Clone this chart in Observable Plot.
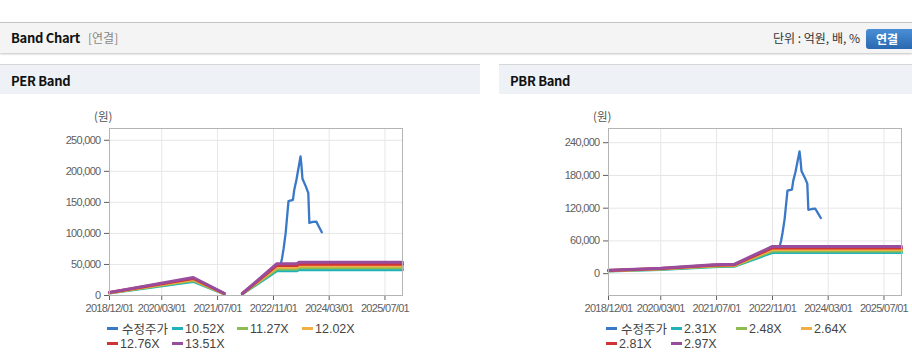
<!DOCTYPE html>
<html>
<head>
<meta charset="utf-8">
<script src="https://cdn.jsdelivr.net/npm/d3@7"></script>
<script src="https://cdn.jsdelivr.net/npm/@observablehq/plot@0.6"></script>
<style>
  html, body { margin: 0; padding: 0; }
  body { width: 912px; height: 364px; overflow: hidden; background: #fff; position: relative;
         font-family: "Noto Sans CJK KR", "Liberation Sans", sans-serif; }
  .topbar { position: absolute; left: 0; top: 22px; width: 912px; height: 30px; background: #f4f4f4;
            border-top: 1px solid #c6c6c6; box-shadow: 0 1px 2px rgba(0,0,0,0.25); }
  .topbar .title { position: absolute; left: 11px; top: 5px; font-size: 13px; font-weight: 700; color: #111; letter-spacing: -0.3px; }
  .topbar .sub { position: absolute; left: 88px; top: 6px; font-size: 12px; color: #888; }
  .topbar .unit { position: absolute; right: 52px; top: 6px; font-size: 12px; color: #333; letter-spacing: 0px; }
  .topbar .btn { position: absolute; left: 866px; top: 6px; width: 50px; height: 20px; border-radius: 3px;
                 background: linear-gradient(#4a8fd6, #2a68b0); color: #fff; font-size: 12px; font-weight: 700;
                 line-height: 20px; text-indent: 10px; }
  .panel { position: absolute; top: 64px; width: 480px; height: 300px; }
  .phead { position: absolute; left: 0; top: 0; width: 100%; height: 29px; background: #eef2f7;
           border-top: 1px solid #d6d6d6; }
  .phead span { position: absolute; left: 11px; top: 6px; font-size: 13px; font-weight: 700; color: #111; letter-spacing: -0.3px; }
  .unitlbl { position: absolute; top: 44px; font-size: 11.5px; color: #555; }
  .chart { position: absolute; left: 0; top: 36px; }
  .legend { position: absolute; left: 107px; top: 257px; width: 270px; display: flex; flex-wrap: wrap;
            font-family: "Liberation Sans", "Noto Sans CJK KR", sans-serif; font-size: 12.5px; color: #444; }
  .legend .item { width: 65px; height: 15px; display: flex; align-items: center; white-space: nowrap; }
  .legend .sw { display: inline-block; width: 11px; height: 3px; margin-right: 2px; }
  .legend .item.first .sw { margin-right: 4px; }
</style>
</head>
<body>
<div class="topbar">
  <div class="title">Band Chart</div>
  <div class="sub">[연결]</div>
  <div class="unit">단위 : 억원, 배, %</div>
  <div class="btn">연결</div>
</div>

<div class="panel" id="perPanel" style="left:0;">
  <div class="phead"><span>PER Band</span></div>
  <div class="unitlbl" style="left:94px;">(원)</div>
  <div class="chart" id="perChart"></div>
  <div class="legend" id="perLegend"></div>
</div>
<div class="panel" id="pbrPanel" style="left:499px;">
  <div class="phead"><span>PBR Band</span></div>
  <div class="unitlbl" style="left:94px;">(원)</div>
  <div class="chart" id="pbrChart"></div>
  <div class="legend" id="pbrLegend"></div>
</div>

<script>
// ---------- Data ----------
const xTickLabels = ["2018/12/01", "2020/03/01", "2021/07/01", "2022/11/01", "2024/03/01", "2025/07/01"];
const xDomain = ["2018-12-01", "2025-12-01"];

// Adjusted price (수정주가)
const priceDates = ["2023-01-05","2023-01-15","2023-01-28","2023-02-15","2023-03-12","2023-04-20","2023-05-01","2023-05-20","2023-06-25","2023-07-03","2023-07-12","2023-08-12","2023-09-01","2023-09-10","2023-10-10","2023-11-10","2023-12-05","2023-12-28"];
const priceValues = [52000, 60000, 75000, 100000, 152000, 154000, 170000, 186000, 224000, 210000, 188000, 175000, 165000, 117000, 118500, 119000, 110000, 102000];

// PER band
const perNames = ["수정주가", "10.52X", "11.27X", "12.02X", "12.76X", "13.51X"];
const perDates = ["2018-12-01","2020-12-01","2021-08-28","2021-11-01","2022-02-03","2022-12-01","2023-05-25","2023-06-10","2025-12-01"];
const per1052 = [3945, 22618, 2630, null, 2630, 39976, 39976, 41554, 41554];
const per1127 = [4226, 24231, 2818, null, 2818, 42826, 42826, 44517, 44517];
const per1202 = [4508, 25843, 3005, null, 3005, 45676, 45676, 47479, 47479];
const per1276 = [4785, 27434, 3190, null, 3190, 48488, 48488, 50402, 50402];
const per1351 = [5066, 29047, 3378, null, 3378, 51338, 51338, 53365, 53365];
const perYTicks = [0, 50000, 100000, 150000, 200000, 250000];
const perYDomain = [0, 269000];

// PBR band
const pbrNames = ["수정주가", "2.31X", "2.48X", "2.64X", "2.81X", "2.97X"];
const pbrDates = ["2018-12-01","2020-03-01","2021-06-01","2021-12-01","2022-11-01","2025-12-01"];
const pbr231 = [4851, 7854, 12590, 13398, 38808, 38808];
const pbr248 = [5208, 8432, 13516, 14384, 41664, 41664];
const pbr264 = [5544, 8976, 14388, 15312, 44352, 44352];
const pbr281 = [5901, 9554, 15315, 16298, 47208, 47208];
const pbr297 = [6237, 10098, 16187, 17226, 49896, 49896];
const pbrYTicks = [0, 60000, 120000, 180000, 240000];
const pbrYDomain = [-40000, 266000];

const seriesColors = ["#3a78c8", "#20b2b9", "#8fbc52", "#f0ae45", "#cf3535", "#9a4c9c"];

// ---------- Build ----------
const parse = s => new Date(s + "T00:00:00Z");
const tickDates = xTickLabels.map(s => parse(s.replace(/\//g, "-")));

function rows(dates, values, name) {
  return dates.map((d, i) => ({date: parse(d), value: values[i], series: name}));
}

function chart(el, names, dates, bands, yTicks, yDomain) {
  const priceData = rows(priceDates, priceValues, names[0]);
  const bandData = bands.flatMap((vals, k) => rows(dates, vals, names[k + 1]));
  const svg = Plot.plot({
    width: 422, height: 215,
    marginLeft: 109, marginRight: 20, marginTop: 28, marginBottom: 20,
    style: {fontFamily: "'Liberation Sans', Arial, sans-serif", fontSize: "11px", letterSpacing: "-0.7px", color: "#606060", background: "transparent", overflow: "visible"},
    x: {type: "utc", domain: xDomain.map(parse), ticks: tickDates, tickFormat: d3.utcFormat("%Y/%m/%d"), label: null, tickSize: 5},
    y: {domain: yDomain, ticks: yTicks, tickFormat: d3.format(","), label: null, tickSize: 5},
    color: {domain: names, range: seriesColors},
    marks: [
      Plot.ruleX(tickDates, {stroke: "#e6e6e6"}),
      Plot.ruleY(yTicks, {stroke: "#e6e6e6"}),
      Plot.line(priceData, {x: "date", y: "value", stroke: "series", strokeWidth: 2.3, curve: "linear"}),
      Plot.line(bandData, {x: "date", y: "value", z: "series", stroke: "series", strokeWidth: 3}),
      Plot.frame({stroke: "#b4b4b4"})
    ]
  });
  document.getElementById(el).appendChild(svg);
}

function legend(el, names) {
  const box = document.getElementById(el);
  names.forEach((n, i) => {
    const item = document.createElement("div");
    item.className = "item" + (i === 0 ? " first" : "");
    const sw = document.createElement("span");
    sw.className = "sw";
    sw.style.background = seriesColors[i];
    const t = document.createElement("span");
    t.textContent = n;
    item.appendChild(sw); item.appendChild(t);
    box.appendChild(item);
  });
}

chart("perChart", perNames, perDates, [per1052, per1127, per1202, per1276, per1351], perYTicks, perYDomain);
chart("pbrChart", pbrNames, pbrDates, [pbr231, pbr248, pbr264, pbr281, pbr297], pbrYTicks, pbrYDomain);
legend("perLegend", perNames);
legend("pbrLegend", pbrNames);
</script>
</body>
</html>
